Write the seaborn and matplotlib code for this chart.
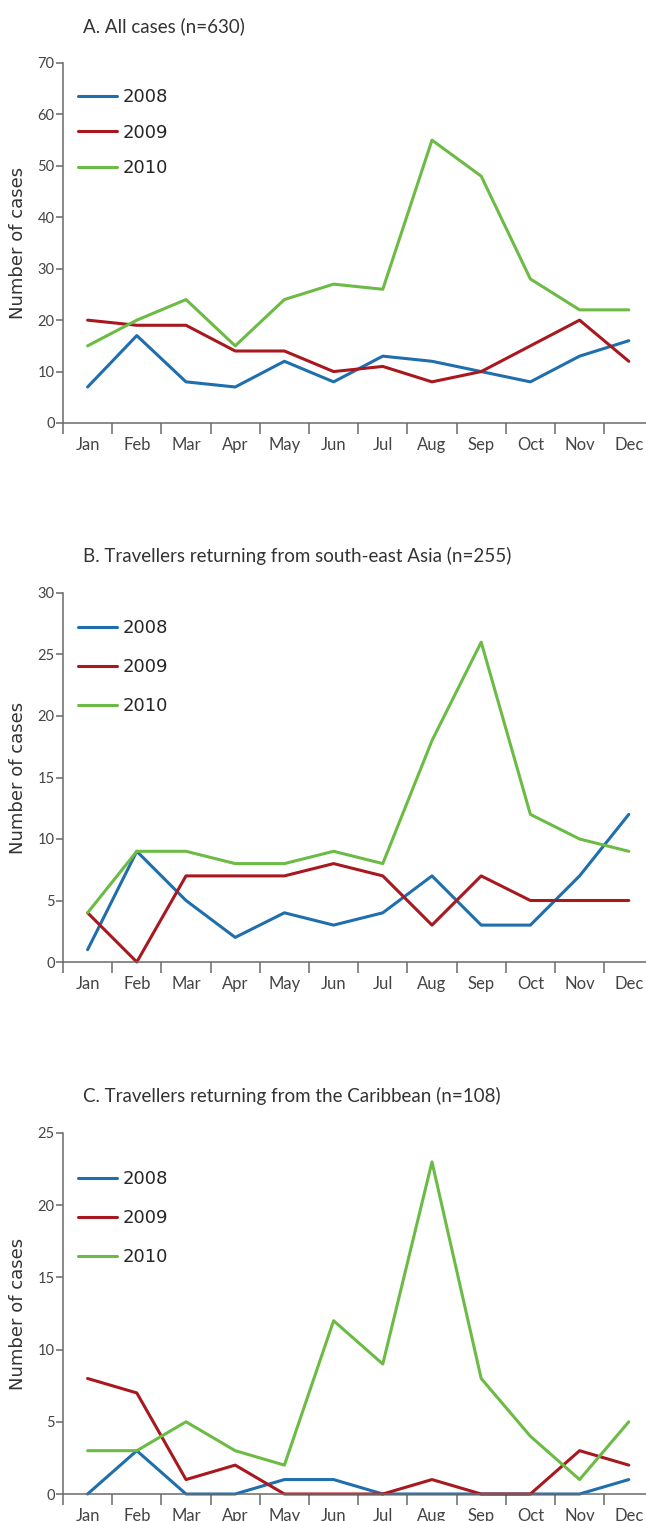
import seaborn as sns
import matplotlib.pyplot as plt
import pandas as pd

months = ["Jan", "Feb", "Mar", "Apr", "May", "Jun", "Jul", "Aug", "Sep", "Oct", "Nov", "Dec"]
years = ["2008", "2009", "2010"]
colors = ["#1f6fae", "#a8191f", "#6cbb45"]

# A. all cases
all_2008 = [7, 17, 8, 7, 12, 8, 13, 12, 10, 8, 13, 16]
all_2009 = [20, 19, 19, 14, 14, 10, 11, 8, 10, 15, 20, 12]
all_2010 = [15, 20, 24, 15, 24, 27, 26, 55, 48, 28, 22, 22]

# B. south-east Asia
sea_2008 = [1, 9, 5, 2, 4, 3, 4, 7, 3, 3, 7, 12]
sea_2009 = [4, 0, 7, 7, 7, 8, 7, 3, 7, 5, 5, 5]
sea_2010 = [4, 9, 9, 8, 8, 9, 8, 18, 26, 12, 10, 9]

# C. Caribbean
car_2008 = [0, 3, 0, 0, 1, 1, 0, 0, 0, 0, 0, 1]
car_2009 = [8, 7, 1, 2, 0, 0, 0, 1, 0, 0, 3, 2]
car_2010 = [3, 3, 5, 3, 2, 12, 9, 23, 8, 4, 1, 5]

titles = ["A. All cases (n=630)",
          "B. Travellers returning from south-east Asia (n=255)",
          "C. Travellers returning from the Caribbean (n=108)"]
series = [(all_2008, all_2009, all_2010),
          (sea_2008, sea_2009, sea_2010),
          (car_2008, car_2009, car_2010)]
y_max = [70, 30, 25]
y_step = [10, 5, 5]

sns.set_style("ticks")
plt.rcParams['font.family'] = ['Lato', 'DejaVu Sans']

W, H = 646, 1521
fig = plt.figure(figsize=(W / 100, H / 100), dpi=100)

# axes boxes in pixels: (top, bottom)
boxes = [(63, 423), (593, 962), (1133, 1494)]
left_px = 63
legend_y = [0.931, 0.93, 0.8975]
legend_gap = [0.98, 1.17, 1.17]

for k in range(3):
    top, bottom = boxes[k]
    ax = fig.add_axes([left_px / W, 1 - bottom / H, 1 - left_px / W, (bottom - top) / H])

    rows = []
    for year, vals in zip(years, series[k]):
        for i, v in enumerate(vals):
            rows.append([i, v, year])
    df = pd.DataFrame(rows, columns=["month", "cases", "year"])

    sns.lineplot(data=df, x="month", y="cases", hue="year", palette=colors,
                 linewidth=2.2, ax=ax, clip_on=False)

    ax.set_xlim(-0.5, 11.35)
    ax.set_ylim(0, y_max[k])
    ax.set_yticks(range(0, y_max[k] + 1, y_step[k]))
    ax.set_xticks([i - 0.5 for i in range(12)])
    ax.set_xticklabels([])
    ax.set_xticks(range(12), minor=True)
    ax.set_xticklabels(months, minor=True)
    ax.tick_params(axis="x", which="major", length=8, width=1.1, color="#6a6a6a")
    ax.tick_params(axis="x", which="minor", length=0, pad=10, labelsize=12, labelcolor="#444444")
    ax.tick_params(axis="y", length=5, width=1.1, color="#6a6a6a", labelsize=10.5,
                   labelcolor="#444444", pad=1)
    sns.despine(ax=ax)
    for s in ["left", "bottom"]:
        ax.spines[s].set_color("#6a6a6a")
        ax.spines[s].set_linewidth(1.1)

    ax.set_xlabel("")
    ax.set_ylabel("Number of cases", fontsize=13, color="#333333", family="DejaVu Sans")
    ax.yaxis.set_label_coords(-0.062, 0.5)

    ax.annotate(titles[k], xy=(0, 1), xycoords="axes fraction", xytext=(20, 31),
                textcoords="offset pixels", va="baseline", ha="left",
                fontsize=13.5, color="#333333")

    handles, labels = ax.get_legend_handles_labels()
    ax.legend(handles, labels, loc="upper left", bbox_to_anchor=(0.025, legend_y[k]),
              frameon=False, borderaxespad=0, borderpad=0, handlelength=2.2,
              handletextpad=0.3, labelspacing=legend_gap[k],
              prop={"family": "DejaVu Sans", "size": 13})

fig.savefig("out.png", dpi=100)
